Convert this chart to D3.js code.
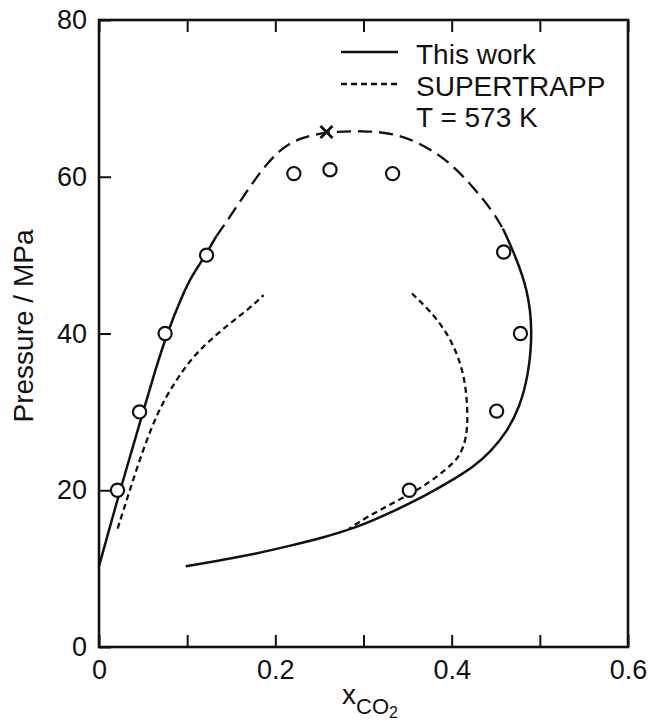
<!DOCTYPE html>
<html>
<head>
<meta charset="utf-8">
<script src="https://cdn.jsdelivr.net/npm/d3@7"></script>
<style>
  body { margin: 0; background: #fff; }
  svg { display: block; }
  text { font-family: "Liberation Sans", Arial, Helvetica, sans-serif; fill: #111; }
</style>
</head>
<body>
<svg id="chart" width="649" height="721"></svg>
<script>
// Axis ticks
const xTickValues = [0, 0.1, 0.2, 0.3, 0.4, 0.5, 0.6];
const xTickLabels = ["0", "", "0.2", "", "0.4", "", "0.6"];
const yTickValues = [0, 20, 40, 60, 80];
const yTickLabels = ["0", "20", "40", "60", "80"];

// This work: [x_CO2, P / MPa]
const thisWorkDew = [[0, 10.3], [0.0115, 15], [0.024, 20], [0.037, 25], [0.05, 30], [0.063, 35],
  [0.077, 40], [0.095, 45], [0.106, 47.5], [0.121, 50], [0.133, 52.4]];
const thisWorkCritical = [[0.133, 52.4], [0.145, 54.3], [0.165, 57.7], [0.184, 60.8], [0.205, 63.5],
  [0.228, 65.0], [0.258, 65.7], [0.30, 65.9], [0.3375, 65.5], [0.3675, 64.1],
  [0.3975, 61.9], [0.4236, 58.8], [0.4459, 55.7], [0.458, 53.4]];
const thisWorkBubble = [[0.458, 53.4], [0.4716, 50.1], [0.4863, 45.6], [0.492, 40.3],
  [0.487, 34.6], [0.477, 30.6], [0.463, 27.5], [0.445, 25.0], [0.425, 23.0], [0.404, 21.5],
  [0.37, 19.3], [0.332, 17.2], [0.294, 15.3], [0.2525, 13.9], [0.2163, 12.9], [0.178, 11.9],
  [0.1397, 11.1], [0.0984, 10.3]];

// SUPERTRAPP predictions
const supertrappVapour = [[0.0211, 15.1], [0.034, 19.7], [0.05, 25.2], [0.0665, 30.0], [0.0853, 33.7],
  [0.1048, 36.8], [0.1242, 39.0], [0.1474, 41.2], [0.1706, 43.2], [0.1868, 44.9]];
const supertrappLiquid = [[0.3549, 45.1], [0.3728, 43.2], [0.3913, 40.7], [0.4061, 37.6], [0.4152, 34.1],
  [0.4185, 30.0], [0.417, 26.5], [0.4085, 24.3], [0.401, 23.4], [0.3855, 21.9], [0.3627, 20.1],
  [0.3323, 18.3], [0.3057, 16.7], [0.2837, 15.1]];

// Experimental points
const expX = [0.021, 0.046, 0.075, 0.122, 0.221, 0.262, 0.333, 0.459, 0.478, 0.451, 0.352];
const expP = [20, 30, 40, 50, 60.4, 60.9, 60.4, 50.4, 40, 30.1, 20];

// Critical point
const criticalPoint = [0.258, 65.7];

const legendLabels = ["This work", "SUPERTRAPP", "T = 573 K"];

const ink = "#111";
const plotLeft = 99, plotRight = 628, plotTop = 20, plotBottom = 647;
const x = d3.scaleLinear().domain([0, 0.6]).range([plotLeft, plotRight]);
const y = d3.scaleLinear().domain([0, 80]).range([plotBottom, plotTop]);

const svg = d3.select("#chart");

// Axes with inward ticks
const styleAxis = g => {
  g.select(".domain").remove();
  g.selectAll(".tick line").attr("stroke", ink).attr("stroke-width", 2);
  g.selectAll(".tick text").attr("font-size", 27).attr("fill", ink)
    .attr("font-family", "\"Liberation Sans\", Arial, Helvetica, sans-serif");
};

svg.append("g").attr("transform", `translate(0,${plotBottom})`)
  .call(d3.axisBottom(x).tickValues(xTickValues).tickSize(-12).tickPadding(13)
    .tickFormat((d, i) => xTickLabels[i]))
  .call(styleAxis);

svg.append("g").attr("transform", `translate(0,${plotTop})`)
  .call(d3.axisTop(x).tickValues(xTickValues).tickSize(-12).tickFormat(""))
  .call(styleAxis);

svg.append("g").attr("transform", `translate(${plotLeft},0)`)
  .call(d3.axisLeft(y).tickValues(yTickValues).tickSize(-12).tickPadding(12)
    .tickFormat((d, i) => yTickLabels[i]))
  .call(styleAxis);

// Frame
svg.append("rect")
  .attr("x", plotLeft).attr("y", plotTop)
  .attr("width", plotRight - plotLeft).attr("height", plotBottom - plotTop)
  .attr("fill", "none").attr("stroke", ink).attr("stroke-width", 2.6);

const line = d3.line()
  .x(d => x(d[0])).y(d => y(d[1]))
  .curve(d3.curveBasis);

const plot = svg.append("g").attr("fill", "none").attr("stroke", ink).attr("stroke-linecap", "butt");

plot.append("path").attr("d", line(thisWorkDew)).attr("stroke-width", 2.5);
plot.append("path").attr("d", line(thisWorkBubble)).attr("stroke-width", 2.5);
plot.append("path").attr("d", line(thisWorkCritical)).attr("stroke-width", 2.3)
  .attr("stroke-dasharray", "14 7");

plot.append("path").attr("d", line(supertrappVapour)).attr("stroke-width", 2.3)
  .attr("stroke-dasharray", "6 4");
plot.append("path").attr("d", line(supertrappLiquid)).attr("stroke-width", 2.3)
  .attr("stroke-dasharray", "6 4");

// Experimental data
svg.append("g").selectAll("circle")
  .data(expX.map((v, i) => [v, expP[i]]))
  .join("circle")
  .attr("cx", d => x(d[0])).attr("cy", d => y(d[1]))
  .attr("r", 6.6)
  .attr("fill", "#fff").attr("stroke", ink).attr("stroke-width", 2.2);

// Critical point mark
const cpx = x(criticalPoint[0]), cpy = y(criticalPoint[1]), h = 6;
svg.append("path")
  .attr("d", `M${cpx - h},${cpy - h}L${cpx + h},${cpy + h}M${cpx + h},${cpy - h}L${cpx - h},${cpy + h}`)
  .attr("stroke", ink).attr("stroke-width", 2.8).attr("fill", "none");

// Legend
const legend = svg.append("g");
legend.append("line").attr("x1", 341).attr("x2", 398).attr("y1", 52).attr("y2", 52)
  .attr("stroke", ink).attr("stroke-width", 2.5);
legend.append("line").attr("x1", 341).attr("x2", 398).attr("y1", 84).attr("y2", 84)
  .attr("stroke", ink).attr("stroke-width", 2.3).attr("stroke-dasharray", "6 4");
legend.selectAll("text")
  .data(legendLabels)
  .join("text")
  .attr("x", 416)
  .attr("y", (d, i) => 64 + i * 31.5)
  .attr("font-size", 28)
  .text(d => d);

// Axis titles
svg.append("text")
  .attr("transform", "translate(33,326) rotate(-90)")
  .attr("text-anchor", "middle")
  .attr("font-size", 28)
  .text("Pressure / MPa");

const xt = svg.append("text").attr("x", 342).attr("y", 704).attr("font-size", 28);
xt.append("tspan").text("x");
xt.append("tspan").attr("font-size", 22).attr("dy", 10).text("CO");
xt.append("tspan").attr("font-size", 16).attr("dy", 4).text("2");
</script>
</body>
</html>
